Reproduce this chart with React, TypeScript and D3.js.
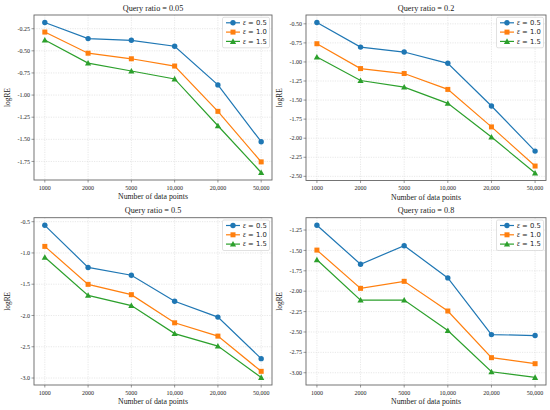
import React from "react";
import * as d3 from "d3";

const categories = ["1000", "2000", "5000", "10,000", "20,000", "50,000"];
const epsilons = ["0.5", "1.0", "1.5"];

const titles = ["Query ratio = 0.05", "Query ratio = 0.2", "Query ratio = 0.5", "Query ratio = 0.8"];

const q005 = [
  [-0.18, -0.362, -0.381, -0.448, -0.885, -1.527],
  [-0.288, -0.527, -0.59, -0.672, -1.184, -1.755],
  [-0.378, -0.639, -0.728, -0.818, -1.347, -1.875],
];
const q02 = [
  [-0.483, -0.805, -0.87, -1.018, -1.578, -2.169],
  [-0.761, -1.087, -1.152, -1.36, -1.852, -2.365],
  [-0.935, -1.243, -1.33, -1.543, -1.985, -2.456],
];
const q05 = [
  [-0.558, -1.232, -1.356, -1.772, -2.026, -2.69],
  [-0.895, -1.502, -1.667, -2.117, -2.33, -2.893],
  [-1.07, -1.678, -1.842, -2.29, -2.49, -2.99],
];
const q08 = [
  [-1.192, -1.669, -1.442, -1.837, -2.532, -2.544],
  [-1.496, -1.965, -1.879, -2.243, -2.815, -2.889],
  [-1.615, -2.109, -2.109, -2.482, -2.988, -3.057],
];

const ticks005 = [-0.25, -0.5, -0.75, -1.0, -1.25, -1.5, -1.75];
const ticks02 = [-0.5, -0.75, -1.0, -1.25, -1.5, -1.75, -2.0, -2.25, -2.5];
const ticks05 = [-0.5, -1.0, -1.5, -2.0, -2.5, -3.0];
const ticks08 = [-1.25, -1.5, -1.75, -2.0, -2.25, -2.5, -2.75, -3.0];
const tickDecimals = [2, 2, 1, 2];

const colors = ["#1f77b4", "#ff7f0e", "#2ca02c"];
const SERIF = "'Liberation Serif', 'Times New Roman', serif";
const SANS = "'DejaVu Sans', sans-serif";

const panels = [
  { data: q005, ticks: ticks005, x: 34, y: 15, w: 238, h: 165 },
  { data: q02, ticks: ticks02, x: 306, y: 15, w: 240, h: 165.5 },
  { data: q05, ticks: ticks05, x: 34, y: 217.7, w: 238, h: 167.3 },
  { data: q08, ticks: ticks08, x: 306, y: 217.7, w: 240, h: 167.3 },
];

function Marker({ kind, x, y, color }: { kind: number; x: number; y: number; color: string }) {
  if (kind === 0) return <circle cx={x} cy={y} r={2.7} fill={color} />;
  if (kind === 1) return <rect x={x - 2.5} y={y - 2.5} width={5} height={5} fill={color} />;
  const s = 3.1;
  return (
    <path
      d={`M${x},${y - s}L${x + s},${y + s * 0.8}L${x - s},${y + s * 0.8}Z`}
      fill={color}
    />
  );
}

function Panel({ idx }: { idx: number }) {
  const p = panels[idx];
  const all = p.data.flat();
  const mn = d3.min(all)!;
  const mx = d3.max(all)!;
  const pad = (mx - mn) * 0.05;
  const y = d3.scaleLinear().domain([mn - pad, mx + pad]).range([p.y + p.h, p.y]);
  const x = d3.scaleLinear().domain([-0.25, categories.length - 0.75]).range([p.x, p.x + p.w]);
  const line = d3
    .line<number>()
    .x((_, i) => x(i))
    .y((v) => y(v));
  const fmt = d3.format(`.${tickDecimals[idx]}f`);
  const lx = p.x + p.w - 49.5;
  const ly = p.y + 2.3;
  return (
    <g>
      <rect x={p.x} y={p.y} width={p.w} height={p.h} fill="white" />
      {p.ticks.map((t) => (
        <line key={"gy" + t} x1={p.x} x2={p.x + p.w} y1={y(t)} y2={y(t)} stroke="#d8d8d8" strokeWidth={0.6} strokeDasharray="1.2,1.2" />
      ))}
      {categories.map((c, i) => (
        <line key={"gx" + c} x1={x(i)} x2={x(i)} y1={p.y} y2={p.y + p.h} stroke="#d8d8d8" strokeWidth={0.6} strokeDasharray="1.2,1.2" />
      ))}
      {p.data.map((s, k) => (
        <g key={"s" + k}>
          <path d={line(s)!} fill="none" stroke={colors[k]} strokeWidth={1.2} />
          {s.map((v, i) => (
            <Marker key={i} kind={k} x={x(i)} y={y(v)} color={colors[k]} />
          ))}
        </g>
      ))}
      <rect x={p.x} y={p.y} width={p.w} height={p.h} fill="none" stroke="#666" strokeWidth={0.9} />
      {p.ticks.map((t) => (
        <g key={"ty" + t}>
          <line x1={p.x - 2.5} x2={p.x} y1={y(t)} y2={y(t)} stroke="#555" strokeWidth={0.6} />
          <text x={p.x - 4} y={y(t)} dy="0.35em" textAnchor="end" fontFamily={SERIF} fontSize={6} fill="#222">
            {fmt(t).replace("−", "-")}
          </text>
        </g>
      ))}
      {categories.map((c, i) => (
        <g key={"tx" + c}>
          <line x1={x(i)} x2={x(i)} y1={p.y + p.h} y2={p.y + p.h + 2.5} stroke="#555" strokeWidth={0.6} />
          <text x={x(i)} y={p.y + p.h + 9.5} textAnchor="middle" fontFamily={SERIF} fontSize={6} fill="#222">
            {c}
          </text>
        </g>
      ))}
      <text x={p.x + p.w / 2} y={p.y - 4.5} textAnchor="middle" fontFamily={SERIF} fontSize={8.2} fill="#222">
        {titles[idx]}
      </text>
      <text x={p.x + p.w / 2} y={p.y + p.h + 19} textAnchor="middle" fontFamily={SERIF} fontSize={7.8} fill="#222">
        Number of data points
      </text>
      <text
        transform={`translate(${p.x - 24.5},${p.y + p.h / 2}) rotate(-90)`}
        textAnchor="middle"
        fontFamily={SERIF}
        fontSize={7.4}
        fill="#222"
      >
        logRE
      </text>
      <rect x={lx} y={ly} width={47} height={30.5} rx={1.5} fill="white" fillOpacity={0.85} stroke="#ccc" strokeWidth={0.6} />
      {epsilons.map((e, k) => {
        const yy = ly + 5.5 + k * 9.3;
        return (
          <g key={"lg" + e}>
            <line x1={lx + 3.5} x2={lx + 17.5} y1={yy} y2={yy} stroke={colors[k]} strokeWidth={1.2} />
            <Marker kind={k} x={lx + 10.5} y={yy} color={colors[k]} />
            <text x={lx + 20.5} y={yy} dy="0.35em" fontFamily={SANS} fontSize={6.8} fill="#222">
              <tspan fontFamily={SERIF} fontStyle="italic" fontSize={7.4}>ε</tspan>
              {" = " + e}
            </text>
          </g>
        );
      })}
    </g>
  );
}

export default function App() {
  return (
    <svg width={550} height={410} style={{ position: "absolute", left: 0, top: 0, background: "white" }}>
      <rect width={550} height={410} fill="white" />
      {panels.map((_, i) => (
        <Panel key={i} idx={i} />
      ))}
    </svg>
  );
}
